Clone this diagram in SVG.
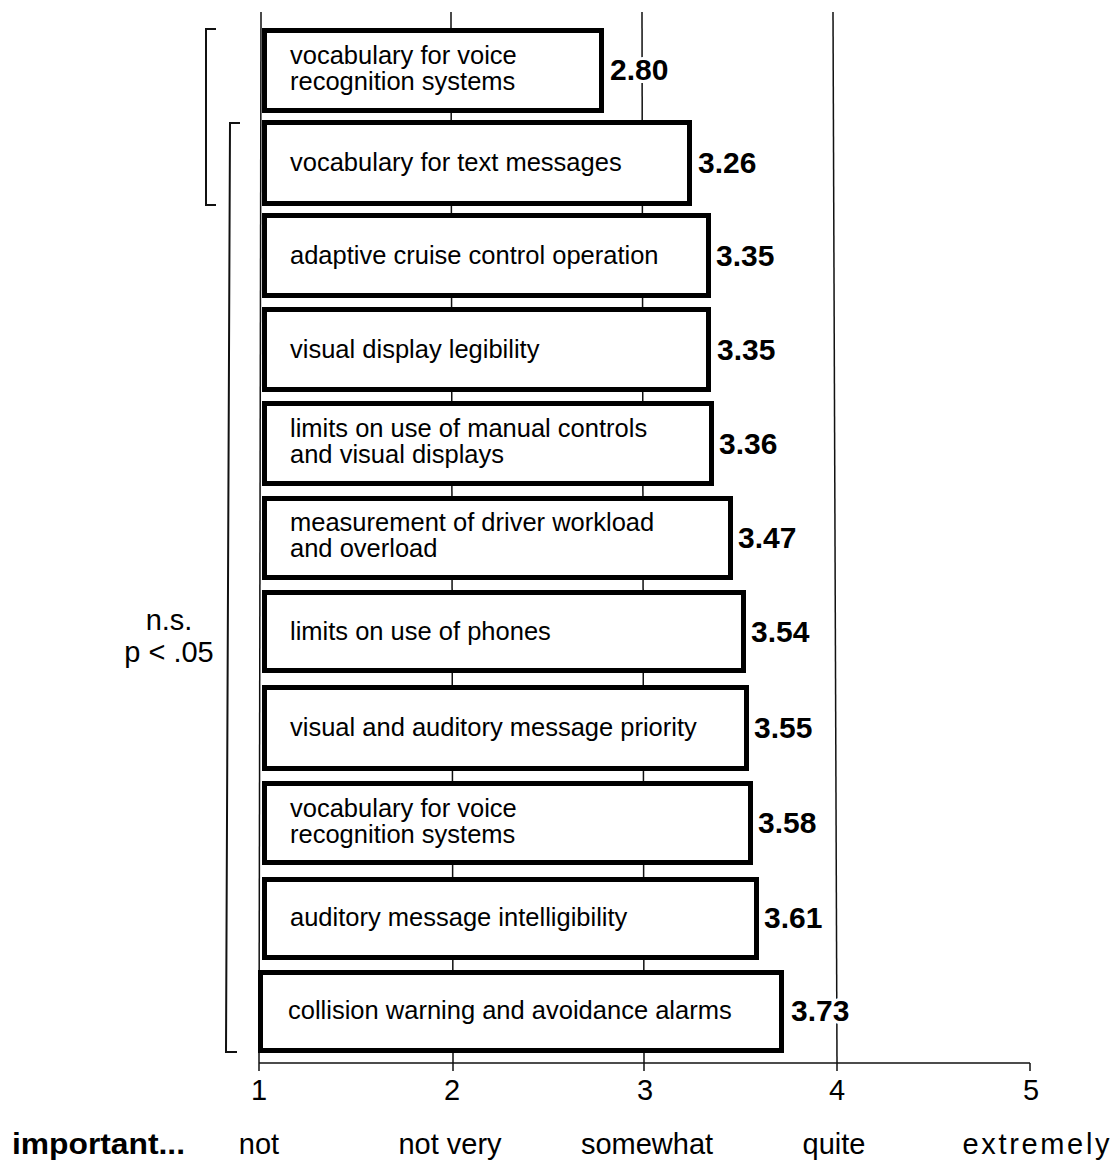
<svg xmlns="http://www.w3.org/2000/svg" width="1119" height="1166" viewBox="0 0 1119 1166">
<style>
.grid{stroke:#111;stroke-width:1.5;fill:none}
.bar{fill:#fff;stroke:#000;stroke-width:5}
.lbl{font-family:"Liberation Sans",Arial,sans-serif;font-size:25.5px;fill:#000}
.val{font-family:"Liberation Sans",Arial,sans-serif;font-size:30px;font-weight:bold;fill:#000;stroke:#fff;stroke-width:6;paint-order:stroke;stroke-linejoin:round}
.tick{font-family:"Liberation Sans",Arial,sans-serif;font-size:29px;fill:#000;text-anchor:middle}
.brk{stroke:#111;stroke-width:2;fill:none}
</style>
<rect width="1119" height="1166" fill="#fff"/>
<g id="grid">
<line class="grid" x1="261" y1="12" x2="259" y2="1063"/>
<line class="grid" x1="451" y1="12" x2="453" y2="1063"/>
<line class="grid" x1="642" y1="12" x2="644" y2="1063"/>
<line class="grid" x1="833" y1="12" x2="837" y2="1063"/>
</g>
<g id="axis">
<line class="grid" x1="259" y1="1063" x2="1030" y2="1063"/>
<line class="grid" x1="259" y1="1063" x2="259" y2="1071"/>
<line class="grid" x1="453" y1="1063" x2="453" y2="1071"/>
<line class="grid" x1="644" y1="1063" x2="644" y2="1071"/>
<line class="grid" x1="837" y1="1063" x2="837" y2="1071"/>
<line class="grid" x1="1030" y1="1063" x2="1030" y2="1071"/>
<text class="tick" x="259" y="1100">1</text>
<text class="tick" x="452" y="1100">2</text>
<text class="tick" x="645" y="1100">3</text>
<text class="tick" x="837" y="1100">4</text>
<text class="tick" x="1031" y="1100">5</text>
</g>
<g id="bar1"><rect class="bar" x="264.5" y="30.5" width="337" height="80"/><text class="lbl" x="290" y="64">vocabulary for voice</text><text class="lbl" x="290" y="90">recognition systems</text><text class="val" x="610" y="80">2.80</text></g>
<g id="bar2"><rect class="bar" x="264.5" y="122.5" width="425" height="81"/><text class="lbl" x="290" y="171">vocabulary for text messages</text><text class="val" x="698" y="173">3.26</text></g>
<g id="bar3"><rect class="bar" x="264.5" y="215.5" width="444" height="80"/><text class="lbl" x="290" y="264">adaptive cruise control operation</text><text class="val" x="716" y="266">3.35</text></g>
<g id="bar4"><rect class="bar" x="264.5" y="309.5" width="444" height="80"/><text class="lbl" x="290" y="358">visual display legibility</text><text class="val" x="717" y="360">3.35</text></g>
<g id="bar5"><rect class="bar" x="264.5" y="403.5" width="447" height="80"/><text class="lbl" x="290" y="437">limits on use of manual controls</text><text class="lbl" x="290" y="463">and visual displays</text><text class="val" x="719" y="454">3.36</text></g>
<g id="bar6"><rect class="bar" x="264.5" y="498.5" width="466" height="79"/><text class="lbl" x="290" y="531">measurement of driver workload</text><text class="lbl" x="290" y="557">and overload</text><text class="val" x="738" y="548">3.47</text></g>
<g id="bar7"><rect class="bar" x="264.5" y="592.5" width="479" height="78"/><text class="lbl" x="290" y="640">limits on use of phones</text><text class="val" x="751" y="642">3.54</text></g>
<g id="bar8"><rect class="bar" x="264.5" y="687.5" width="482" height="81"/><text class="lbl" x="290" y="736">visual and auditory message priority</text><text class="val" x="754" y="738">3.55</text></g>
<g id="bar9"><rect class="bar" x="264.5" y="783.5" width="486" height="79"/><text class="lbl" x="290" y="817">vocabulary for voice</text><text class="lbl" x="290" y="843">recognition systems</text><text class="val" x="758" y="833">3.58</text></g>
<g id="bar10"><rect class="bar" x="264.5" y="879.5" width="492" height="78"/><text class="lbl" x="290" y="926">auditory message intelligibility</text><text class="val" x="764" y="928">3.61</text></g>
<g id="bar11"><rect class="bar" x="260.5" y="972.5" width="521" height="78"/><text class="lbl" x="288" y="1019">collision warning and avoidance alarms</text><text class="val" x="791" y="1021">3.73</text></g>
<g id="brackets">
<path class="brk" d="M216,29 H206 V205 H216"/>
<path class="brk" d="M240,123 H230 L226,1052 H237"/>
<text class="tick" x="169" y="630">n.s.</text>
<text class="tick" x="169" y="662">p &lt; .05</text>
</g>
<g id="scale-labels">
<text class="tick" x="12" y="1154" textLength="173" lengthAdjust="spacingAndGlyphs" style="text-anchor:start;font-weight:bold">important...</text>
<text class="tick" x="259" y="1154">not</text>
<text class="tick" x="450" y="1154">not very</text>
<text class="tick" x="647" y="1154">somewhat</text>
<text class="tick" x="834" y="1154">quite</text>
<text class="tick" x="1036" y="1154" textLength="147" lengthAdjust="spacing">extremely</text>
</g>
</svg>
